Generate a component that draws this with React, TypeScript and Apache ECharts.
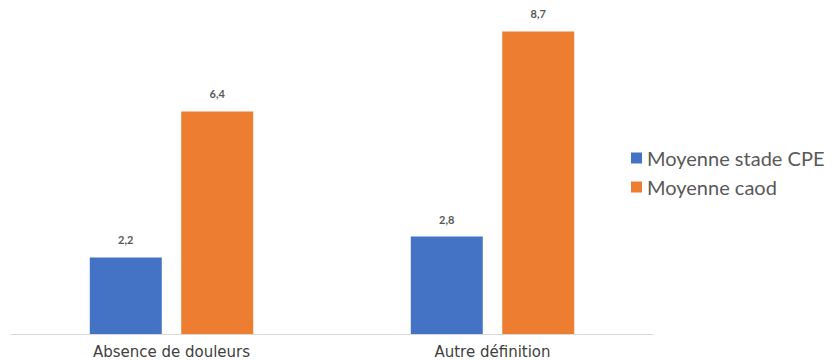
import React, { useEffect, useRef } from "react";
import * as echarts from "echarts";

const categories = ["Absence de douleurs", "Autre définition"];
const seriesNames = ["Moyenne stade CPE", "Moyenne caod"];
const stadeCPE = [2.2, 2.8];
const caod = [6.4, 8.7];
const colors = ["#4472C4", "#ED7D31"];

export default function App() {
  const ref = useRef<HTMLDivElement>(null);
  useEffect(() => {
    const chart = echarts.init(ref.current!, null, { renderer: "svg" });
    const label = {
      show: true,
      position: "top",
      distance: 12,
      formatter: (p: any) => String(p.value).replace(".", ","),
      fontFamily: "Lato, sans-serif",
      fontWeight: "bold",
      fontSize: 11,
      color: "#595959",
    };
    chart.setOption({
      animation: false,
      backgroundColor: "#ffffff",
      grid: { left: 11, right: 187, top: 21, bottom: 26, containLabel: false },
      legend: {
        orient: "vertical",
        left: 626,
        top: 143,
        itemWidth: 11,
        itemHeight: 11,
        itemGap: 9,
        icon: "rect",
        textStyle: { fontFamily: "Lato, sans-serif", fontSize: 20, color: "#595959" },
        data: seriesNames,
      },
      xAxis: {
        type: "category",
        data: categories,
        axisLine: { lineStyle: { color: "#d9d9d9", width: 1 } },
        axisTick: { show: false },
        axisLabel: {
          fontFamily: "DejaVu Sans, sans-serif",
          fontSize: 15,
          color: "#404040",
          margin: 10,
        },
      },
      yAxis: {
        type: "value",
        min: 0,
        max: 9,
        show: false,
        splitLine: { show: false },
      },
      series: [
        {
          name: seriesNames[0],
          type: "bar",
          data: stadeCPE,
          barWidth: 72,
          barGap: "27%",
          itemStyle: { color: colors[0] },
          label,
        },
        {
          name: seriesNames[1],
          type: "bar",
          data: caod,
          barWidth: 72,
          barGap: "27%",
          itemStyle: { color: colors[1] },
          label,
        },
      ],
    });
    return () => chart.dispose();
  }, []);
  return (
    <div
      ref={ref}
      style={{ position: "fixed", left: 0, top: 0, width: 840, height: 360 }}
    />
  );
}
